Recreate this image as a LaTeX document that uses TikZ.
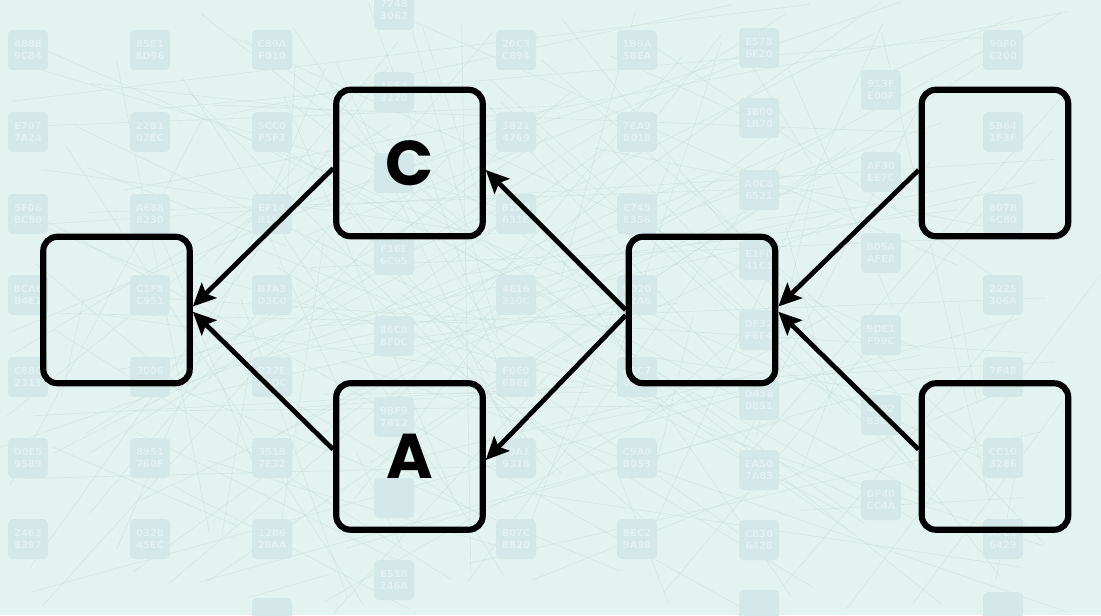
\documentclass[tikz,border=0pt]{standalone}
\usepackage{fontspec}
\newfontfamily\lblfont{Poppins}
\newfontfamily\tilefont{DejaVu Sans}
\usepackage{tikz}
\usetikzlibrary{arrows.meta}
\definecolor{bgmint}{HTML}{E3F4F0}
\definecolor{tilefill}{HTML}{D4E8E8}
\definecolor{tiletext}{HTML}{E2F0F0}
\definecolor{meshline}{HTML}{C6DCD8}

\begin{document}
\begin{tikzpicture}[x=0.02cm, y=-0.02cm,
    box/.style={draw, line width=3.5pt, rounded corners=8pt, minimum size=2.93cm, inner sep=0pt,
      font=\lblfont\bfseries\fontsize{36}{36}\selectfont},
    arr/.style={line width=2.7pt, -{Stealth[length=13pt, width=12pt, inset=2.5pt]}},
    tile/.style={fill=tilefill, rounded corners=2.5pt, minimum size=0.8cm, inner sep=0pt, align=center,
      text=tiletext, font=\tilefont\bfseries\fontsize{5.6}{6.6}\selectfont}]
  % background
  \useasboundingbox (0,0) rectangle (1101,615);
  \clip (0,0) rectangle (1101,615);
  \fill[bgmint] (0,0) rectangle (1101,615);
  \pgfmathsetseed{41}
  \foreach \i in {1,...,160}{
    \pgfmathsetmacro\xa{rnd*1101}\pgfmathsetmacro\ya{rnd*615}
    \pgfmathsetmacro\xb{rnd*1101}\pgfmathsetmacro\yb{rnd*615}
    \draw[meshline, line width=0.35pt, opacity=0.5] (\xa,\ya) -- (\xb,\yb);
  }
  \foreach \x/\y/\ta/\tb in {
      28/50/4888/9C84, 28/132/E707/7A24, 28/214/5F06/BC80, 28/295/BCA6/B4E1, 28/377/C8B0/2313,
      28/458/D0E5/9589, 28/539/2463/8397,
      150/50/85E1/8D96, 150/132/22B1/07EC, 150/214/A688/8230, 150/295/C1F8/C951, 150/377/3006/E17A,
      150/458/8951/760F, 150/539/0328/45EC,
      272/50/C89A/F010, 272/132/5CC0/F5F3, 272/214/EF14/815B, 272/295/B7A3/D3C0, 272/377/222E/A4DC,
      272/458/3518/7E32, 272/539/1286/28AA,
      394/10/7748/3062, 394/92/1E54/3270, 394/255/F16E/6C95, 394/336/86C8/8F0C,
      394/417/9BF9/7812, 394/580/E518/246A,
      516/50/20C3/C894, 516/132/3B21/4769, 516/214/B2A0/631E, 516/295/4E16/310C, 516/377/F0E0/6BEE,
      516/458/79A1/9318, 516/539/B07C/8B20,
      637/50/1B9A/5BEA, 637/132/7EA9/B01E, 637/214/E745/E356, 637/295/9D20/C2A6, 637/377/A1C7/0E15,
      637/458/C9A0/B053, 637/539/BEC2/9A98,
      759/48/E578/6F20, 759/118/3B00/1B70, 759/190/A0C8/6521, 759/260/E1F0/41C1, 759/330/DF32/F6F4,
      759/400/D458/0851, 759/470/EA50/7A83, 759/540/C830/6428,
      881/90/913F/E00F, 881/172/AF30/EE7C, 881/253/805A/AFE8, 881/335/9DE1/F99C, 881/415/47B2/83D6,
      881/500/DF40/CC4A,
      1003/50/90F0/C200, 1003/132/5B64/1F3F, 1003/214/B07B/6C80, 1003/295/2225/306A, 1003/377/7F48/1E0B,
      1003/458/CC10/3286, 1003/539/A7C1/6429}
    \node[tile] at (\x,\y) {\ta\\\tb};
  % tiles hidden behind the letters or cut by the edge
  \foreach \x/\y in {394/173, 394/498, 272/618, 759/610, 1003/612}
    \node[tile] at (\x,\y) {};

  % diagram
  \node[box] (src) at (116.5,310) {};
  \node[box] (c) at (409.5,163) {C};
  \node[box] (a) at (409.5,456.5) {A};
  \node[box] (mid) at (702,310) {};
  \node[box] (tr) at (995,163) {};
  \node[box] (br) at (995,456.5) {};

  \draw[arr] ([yshift=-3pt]c.west) -- ([yshift=2pt]src.east);
  \draw[arr] ([yshift=4pt]a.west) -- ([yshift=-1pt]src.east);
  \draw[arr] (mid.west) -- ([yshift=-4pt]c.east);
  \draw[arr] ([yshift=-3pt]mid.west) -- ([yshift=-2pt]a.east);
  \draw[arr] ([yshift=-4pt]tr.west) -- ([yshift=2pt]mid.east);
  \draw[arr] ([yshift=4pt]br.west) -- ([yshift=-1pt]mid.east);
\end{tikzpicture}
\end{document}
